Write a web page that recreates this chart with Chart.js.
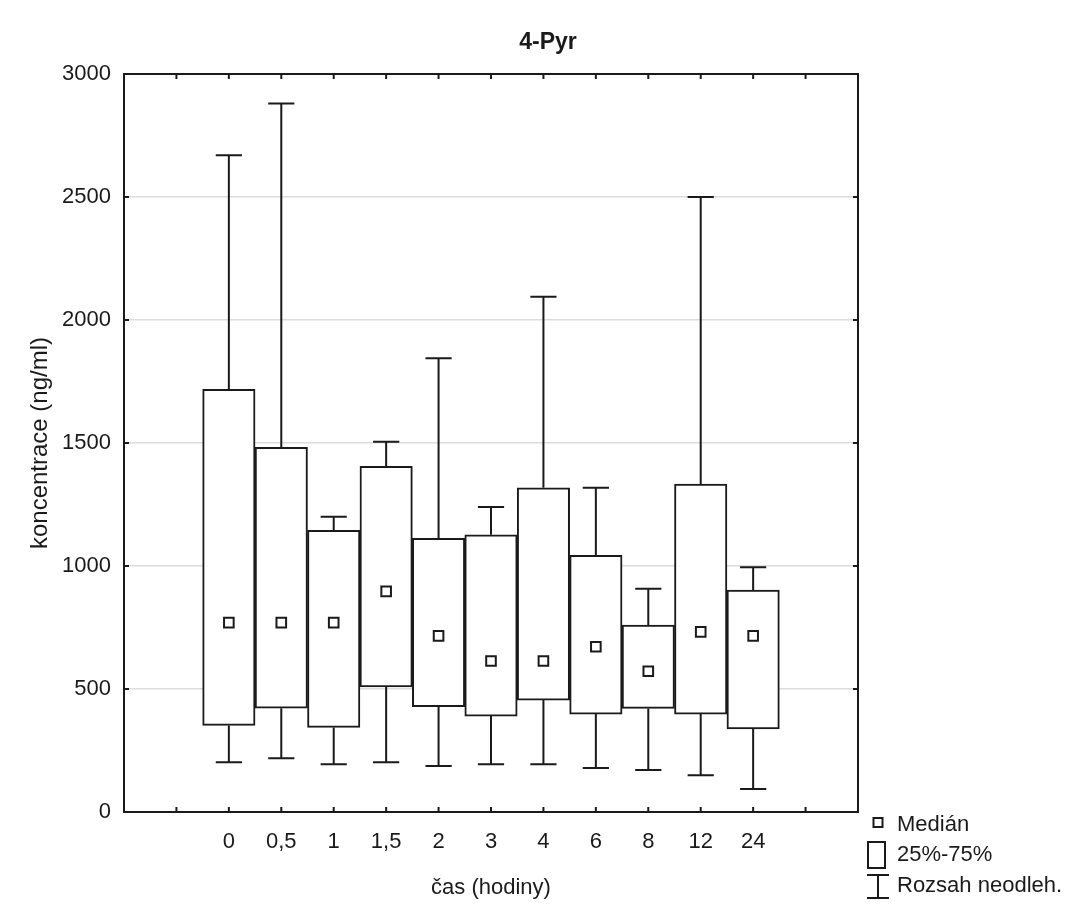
<!DOCTYPE html>
<html><head><meta charset="utf-8">
<script src="https://cdn.jsdelivr.net/npm/chart.js@4/dist/chart.umd.min.js"></script>
<style>html,body{margin:0;padding:0;background:#fff}#wrap{width:1074px;height:909px}</style>
</head><body><div id="wrap"><canvas id="c" width="1074" height="909"></canvas></div>
<script>
// ---- data ----
const chartTitle = '4-Pyr';
const categories = ['0', '0,5', '1', '1,5', '2', '3', '4', '6', '8', '12', '24'];
const maxValues = [2670, 2880, 1200, 1505, 1845, 1240, 2095, 1318, 908, 2500, 995];
const q3Values = [1718, 1482, 1145, 1405, 1112, 1127, 1318, 1043, 760, 1333, 902];
const medianValues = [770, 770, 770, 897, 716, 614, 614, 672, 572, 732, 716];
const q1Values = [352, 422, 344, 508, 428, 390, 455, 398, 421, 398, 338];
const minValues = [202, 219, 194, 202, 187, 194, 194, 179, 171, 149, 93];
const yTicks = [0, 500, 1000, 1500, 2000, 2500, 3000];
const legendLabels = ['Medián', '25%-75%', 'Rozsah neodleh.'];

const FONT = "'Liberation Sans Narrow','Arial Narrow','Liberation Sans',Arial,sans-serif";
const INK = '#1a1a1a';
const LW = 2;
const PAD = 2; // empty category slots on each side
const labels = [...Array(PAD).fill(''), ...categories, ...Array(PAD).fill('')];
const padArr = a => [...Array(PAD).fill(null), ...a, ...Array(PAD).fill(null)];
const boxRanges = q1Values.map((v, i) => [v, q3Values[i]]);

const statPlugin = {
  id: 'statPlugin',
  afterDatasetsDraw(chart) {
    const {ctx, scales: {x, y}} = chart;
    ctx.save();
    ctx.strokeStyle = INK; ctx.lineWidth = LW;
    const half = (x.getPixelForValue(1) - x.getPixelForValue(0)) / 4;
    categories.forEach((c, i) => {
      const px = x.getPixelForValue(i + PAD);
      const yMax = y.getPixelForValue(maxValues[i]), yQ3 = y.getPixelForValue(q3Values[i]);
      const yMin = y.getPixelForValue(minValues[i]), yQ1 = y.getPixelForValue(q1Values[i]);
      ctx.beginPath();
      ctx.moveTo(px, yQ3); ctx.lineTo(px, yMax);
      ctx.moveTo(px - half, yMax); ctx.lineTo(px + half, yMax);
      ctx.moveTo(px, yQ1); ctx.lineTo(px, yMin);
      ctx.moveTo(px - half, yMin); ctx.lineTo(px + half, yMin);
      ctx.stroke();
    });
    ctx.restore();
  },
  afterDraw(chart) {
    const {ctx, chartArea: a, scales: {x, y}} = chart;
    ctx.save();
    ctx.strokeStyle = INK; ctx.lineWidth = LW;
    ctx.strokeRect(a.left, a.top, a.right - a.left, a.bottom - a.top);
    // inward ticks
    ctx.beginPath();
    for (let k = 1; k < labels.length - 1; k++) {
      const px = x.getPixelForValue(k);
      ctx.moveTo(px, a.bottom); ctx.lineTo(px, a.bottom - 5);
      ctx.moveTo(px, a.top); ctx.lineTo(px, a.top + 5);
    }
    yTicks.slice(1, -1).forEach(v => {
      const py = y.getPixelForValue(v);
      ctx.moveTo(a.left, py); ctx.lineTo(a.left + 5, py);
      ctx.moveTo(a.right, py); ctx.lineTo(a.right - 5, py);
    });
    ctx.stroke();
    // title
    ctx.fillStyle = INK;
    ctx.font = `bold 23px ${FONT}`;
    ctx.textAlign = 'center'; ctx.textBaseline = 'middle';
    ctx.fillText(chartTitle, 548, 43);
    // legend
    const lx = a.right + 20;
    ctx.fillStyle = '#fff';
    ctx.fillRect(lx - 4.5, 818, 9, 9); ctx.strokeRect(lx - 4.5, 818, 9, 9);
    ctx.strokeRect(lx - 10, 842, 17, 26);
    ctx.beginPath();
    ctx.moveTo(lx, 875); ctx.lineTo(lx, 898);
    ctx.moveTo(lx - 11, 875); ctx.lineTo(lx + 11, 875);
    ctx.moveTo(lx - 11, 898); ctx.lineTo(lx + 11, 898);
    ctx.stroke();
    ctx.fillStyle = INK;
    ctx.font = `22px ${FONT}`;
    ctx.textAlign = 'left'; ctx.textBaseline = 'middle';
    ctx.fillText(legendLabels[0], lx + 19, 825);
    ctx.fillText(legendLabels[1], lx + 19, 855);
    ctx.fillText(legendLabels[2], lx + 19, 886);
    ctx.restore();
  }
};

new Chart(document.getElementById('c'), {
  type: 'bar',
  data: {
    labels,
    datasets: [
      {
        type: 'line', label: legendLabels[0], data: padArr(medianValues), showLine: false,
        pointStyle: 'rect', pointRadius: 6.8, pointBackgroundColor: '#fff',
        pointBorderColor: INK, pointBorderWidth: LW, order: 0
      },
      {
        type: 'bar', label: legendLabels[1], data: padArr(boxRanges),
        backgroundColor: '#fff', borderColor: INK, borderWidth: LW, borderSkipped: false,
        barPercentage: 1, categoryPercentage: 1, order: 1
      }
    ]
  },
  options: {
    responsive: false, animation: false, devicePixelRatio: 1,
    layout: {padding: {left: 0, right: 216, top: 74, bottom: 0}},
    plugins: {legend: {display: false}, tooltip: {enabled: false}},
    scales: {
      x: {
        type: 'category', offset: false,
        grid: {display: false, drawTicks: false}, border: {display: false},
        ticks: {font: {family: FONT, size: 22}, color: INK, padding: 17, autoSkip: false, maxRotation: 0},
        title: {display: true, text: 'čas (hodiny)', color: INK, font: {family: FONT, size: 22}, padding: {top: 0, bottom: 8}},
        afterFit(s) { s.height = 97; }
      },
      y: {
        min: 0, max: 3000,
        afterBuildTicks(s) { s.ticks = yTicks.map(v => ({value: v})); },
        ticks: {font: {family: FONT, size: 22}, color: INK, padding: 13, callback: v => String(v)},
        grid: {color: '#dcdcdc', lineWidth: 1.5, drawTicks: false}, border: {display: false},
        title: {display: true, text: 'koncentrace (ng/ml)', color: INK, font: {family: "'Liberation Sans',Arial,sans-serif", size: 24}, padding: {top: 26}},
        afterFit(s) { s.width = 124; }
      }
    }
  },
  plugins: [statPlugin]
});
</script></body></html>
